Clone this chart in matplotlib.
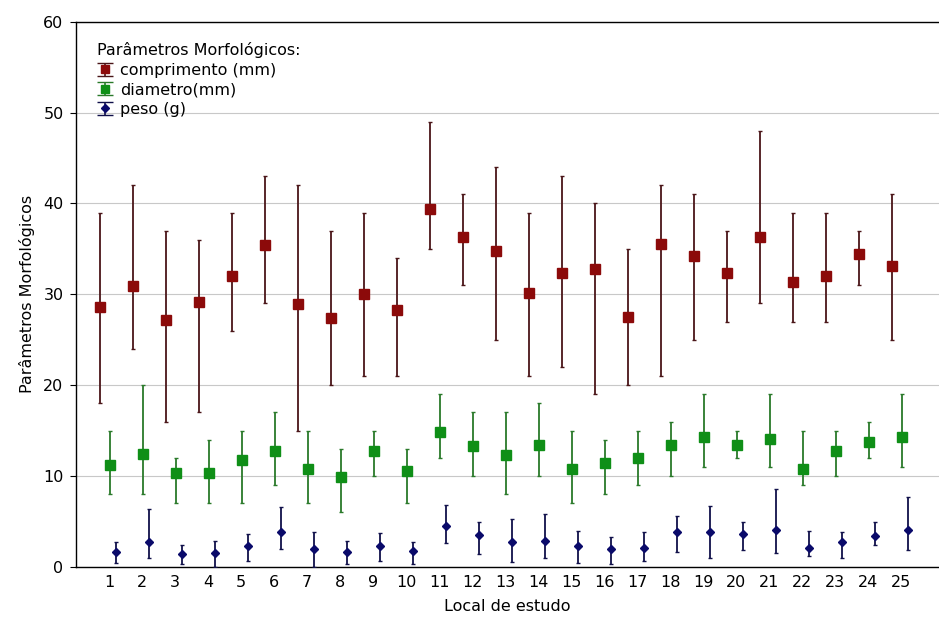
import numpy as np
import matplotlib
matplotlib.use("Agg")
import matplotlib.pyplot as plt
from matplotlib.legend_handler import HandlerErrorbar

plt.rcParams['font.family'] = ['DejaVu Sans']

locais = list(range(1, 26))

comp_media = [28.6, 30.9, 27.2, 29.2, 32.0, 35.4, 28.9, 27.4, 30.0, 28.3,
              39.4, 36.3, 34.8, 30.2, 32.4, 32.8, 27.5, 35.5, 34.2, 32.4,
              36.3, 31.4, 32.0, 34.4, 33.1]
comp_min = [18.0, 24.0, 16.0, 17.0, 26.0, 29.0, 15.0, 20.0, 21.0, 21.0,
            35.0, 31.0, 25.0, 21.0, 22.0, 19.0, 20.0, 21.0, 25.0, 27.0,
            29.0, 27.0, 27.0, 31.0, 25.0]
comp_max = [39.0, 42.0, 37.0, 36.0, 39.0, 43.0, 42.0, 37.0, 39.0, 34.0,
            49.0, 41.0, 44.0, 39.0, 43.0, 40.0, 35.0, 42.0, 41.0, 37.0,
            48.0, 39.0, 39.0, 37.0, 41.0]

diam_media = [11.2, 12.4, 10.3, 10.3, 11.8, 12.8, 10.8, 9.9, 12.8, 10.6,
              14.8, 13.3, 12.3, 13.4, 10.8, 11.4, 12.0, 13.4, 14.3, 13.4,
              14.1, 10.8, 12.8, 13.7, 14.3]
diam_min = [8.0, 8.0, 7.0, 7.0, 7.0, 9.0, 7.0, 6.0, 10.0, 7.0,
            12.0, 10.0, 8.0, 10.0, 7.0, 8.0, 9.0, 10.0, 11.0, 12.0,
            11.0, 9.0, 10.0, 12.0, 11.0]
diam_max = [15.0, 20.0, 12.0, 14.0, 15.0, 17.0, 15.0, 13.0, 15.0, 13.0,
            19.0, 17.0, 17.0, 18.0, 15.0, 14.0, 15.0, 16.0, 19.0, 15.0,
            19.0, 15.0, 15.0, 16.0, 19.0]

peso_media = [1.7, 2.8, 1.4, 1.5, 2.3, 3.8, 2.0, 1.6, 2.3, 1.8,
              4.5, 3.5, 2.7, 2.9, 2.3, 2.0, 2.1, 3.8, 3.8, 3.6,
              4.1, 2.1, 2.7, 3.4, 4.1]
peso_min = [0.4, 1.0, 0.3, 0.0, 0.7, 2.0, 0.0, 0.3, 0.7, 0.3,
            2.6, 1.4, 0.6, 1.0, 0.4, 0.3, 0.7, 1.6, 1.0, 1.9,
            1.5, 1.2, 1.0, 2.4, 1.9]
peso_max = [2.8, 6.4, 2.4, 2.9, 3.6, 6.6, 3.9, 2.9, 3.7, 2.8,
            6.8, 4.9, 5.3, 5.8, 4.0, 3.3, 3.9, 5.6, 6.7, 4.9,
            8.6, 4.0, 3.9, 4.9, 7.7]

x = np.array(locais, dtype=float)

fig = plt.figure(figsize=(9.39, 6.19), dpi=100)
ax = fig.add_axes([0.081, 0.084, 0.919, 0.881])

estilos = [
    (-0.28, '#4a1518', '#8c0a0a', 's', 6.5, 'comprimento (mm)'),
    (0.04, '#2a7a2a', '#0f8f17', 's', 7.5, 'diametro(mm)'),
    (0.22, '#10104a', '#0a0a6a', 'D', 4.5, 'peso (g)'),
]
dados = [(comp_media, comp_min, comp_max),
         (diam_media, diam_min, diam_max),
         (peso_media, peso_min, peso_max)]

handles = []
for (off, cl, cm, mk, ms, rot), (med, lo, hi) in zip(estilos, dados):
    med = np.array(med)
    err = [med - np.array(lo), np.array(hi) - med]
    ax.errorbar(x + off, med, yerr=err, fmt=mk, ms=ms, color=cm, mec=cm,
                ecolor=cl, elinewidth=1.3, capsize=1.5, capthick=1.0, zorder=3)
    # handle so para a legenda (caps maiores como no original)
    h = ax.errorbar([np.nan], [np.nan], yerr=[[1], [1]], fmt=mk,
                    ms=ms * 0.85, color=cm, mec=cm, ecolor=cl, elinewidth=1.2,
                    capsize=6, capthick=1.0, label=rot)
    handles.append(h)

ax.set_xlim(0, 26.15)
ax.set_ylim(0, 60)
ax.set_xticks(locais)
ax.set_xticks(locais[::2], minor=True)
ax.set_yticks(range(0, 61, 10))
ax.yaxis.grid(True, color='#c8c8c8', linewidth=0.8)
ax.set_axisbelow(True)
ax.tick_params(axis='x', which='major', length=0, pad=6, labelsize=11.5)
ax.tick_params(axis='x', which='minor', direction='in', top=True,
               bottom=True, length=4, width=1.0)
ax.tick_params(axis='y', direction='out', length=4, pad=5, labelsize=11.5)
ax.spines['right'].set_visible(False)
for s in ['left', 'bottom', 'top']:
    ax.spines[s].set_linewidth(1.0)

ax.set_xlabel('Local de estudo', fontsize=11.5, labelpad=6)
ax.set_ylabel('Parâmetros Morfológicos', fontsize=11.5, labelpad=6)

leg = ax.legend(handles=handles, title='Parâmetros Morfológicos:',
                loc='upper left', bbox_to_anchor=(0.024, 0.962), frameon=False,
                fontsize=11.5, title_fontsize=11.5, handlelength=1.0,
                handletextpad=0.45, labelspacing=0.28, borderpad=0.0,
                borderaxespad=0.0, alignment='left',
                handler_map={h: HandlerErrorbar(xerr_size=0.5, yerr_size=0.42)
                             for h in handles})

fig.savefig('out.png', dpi=100)
